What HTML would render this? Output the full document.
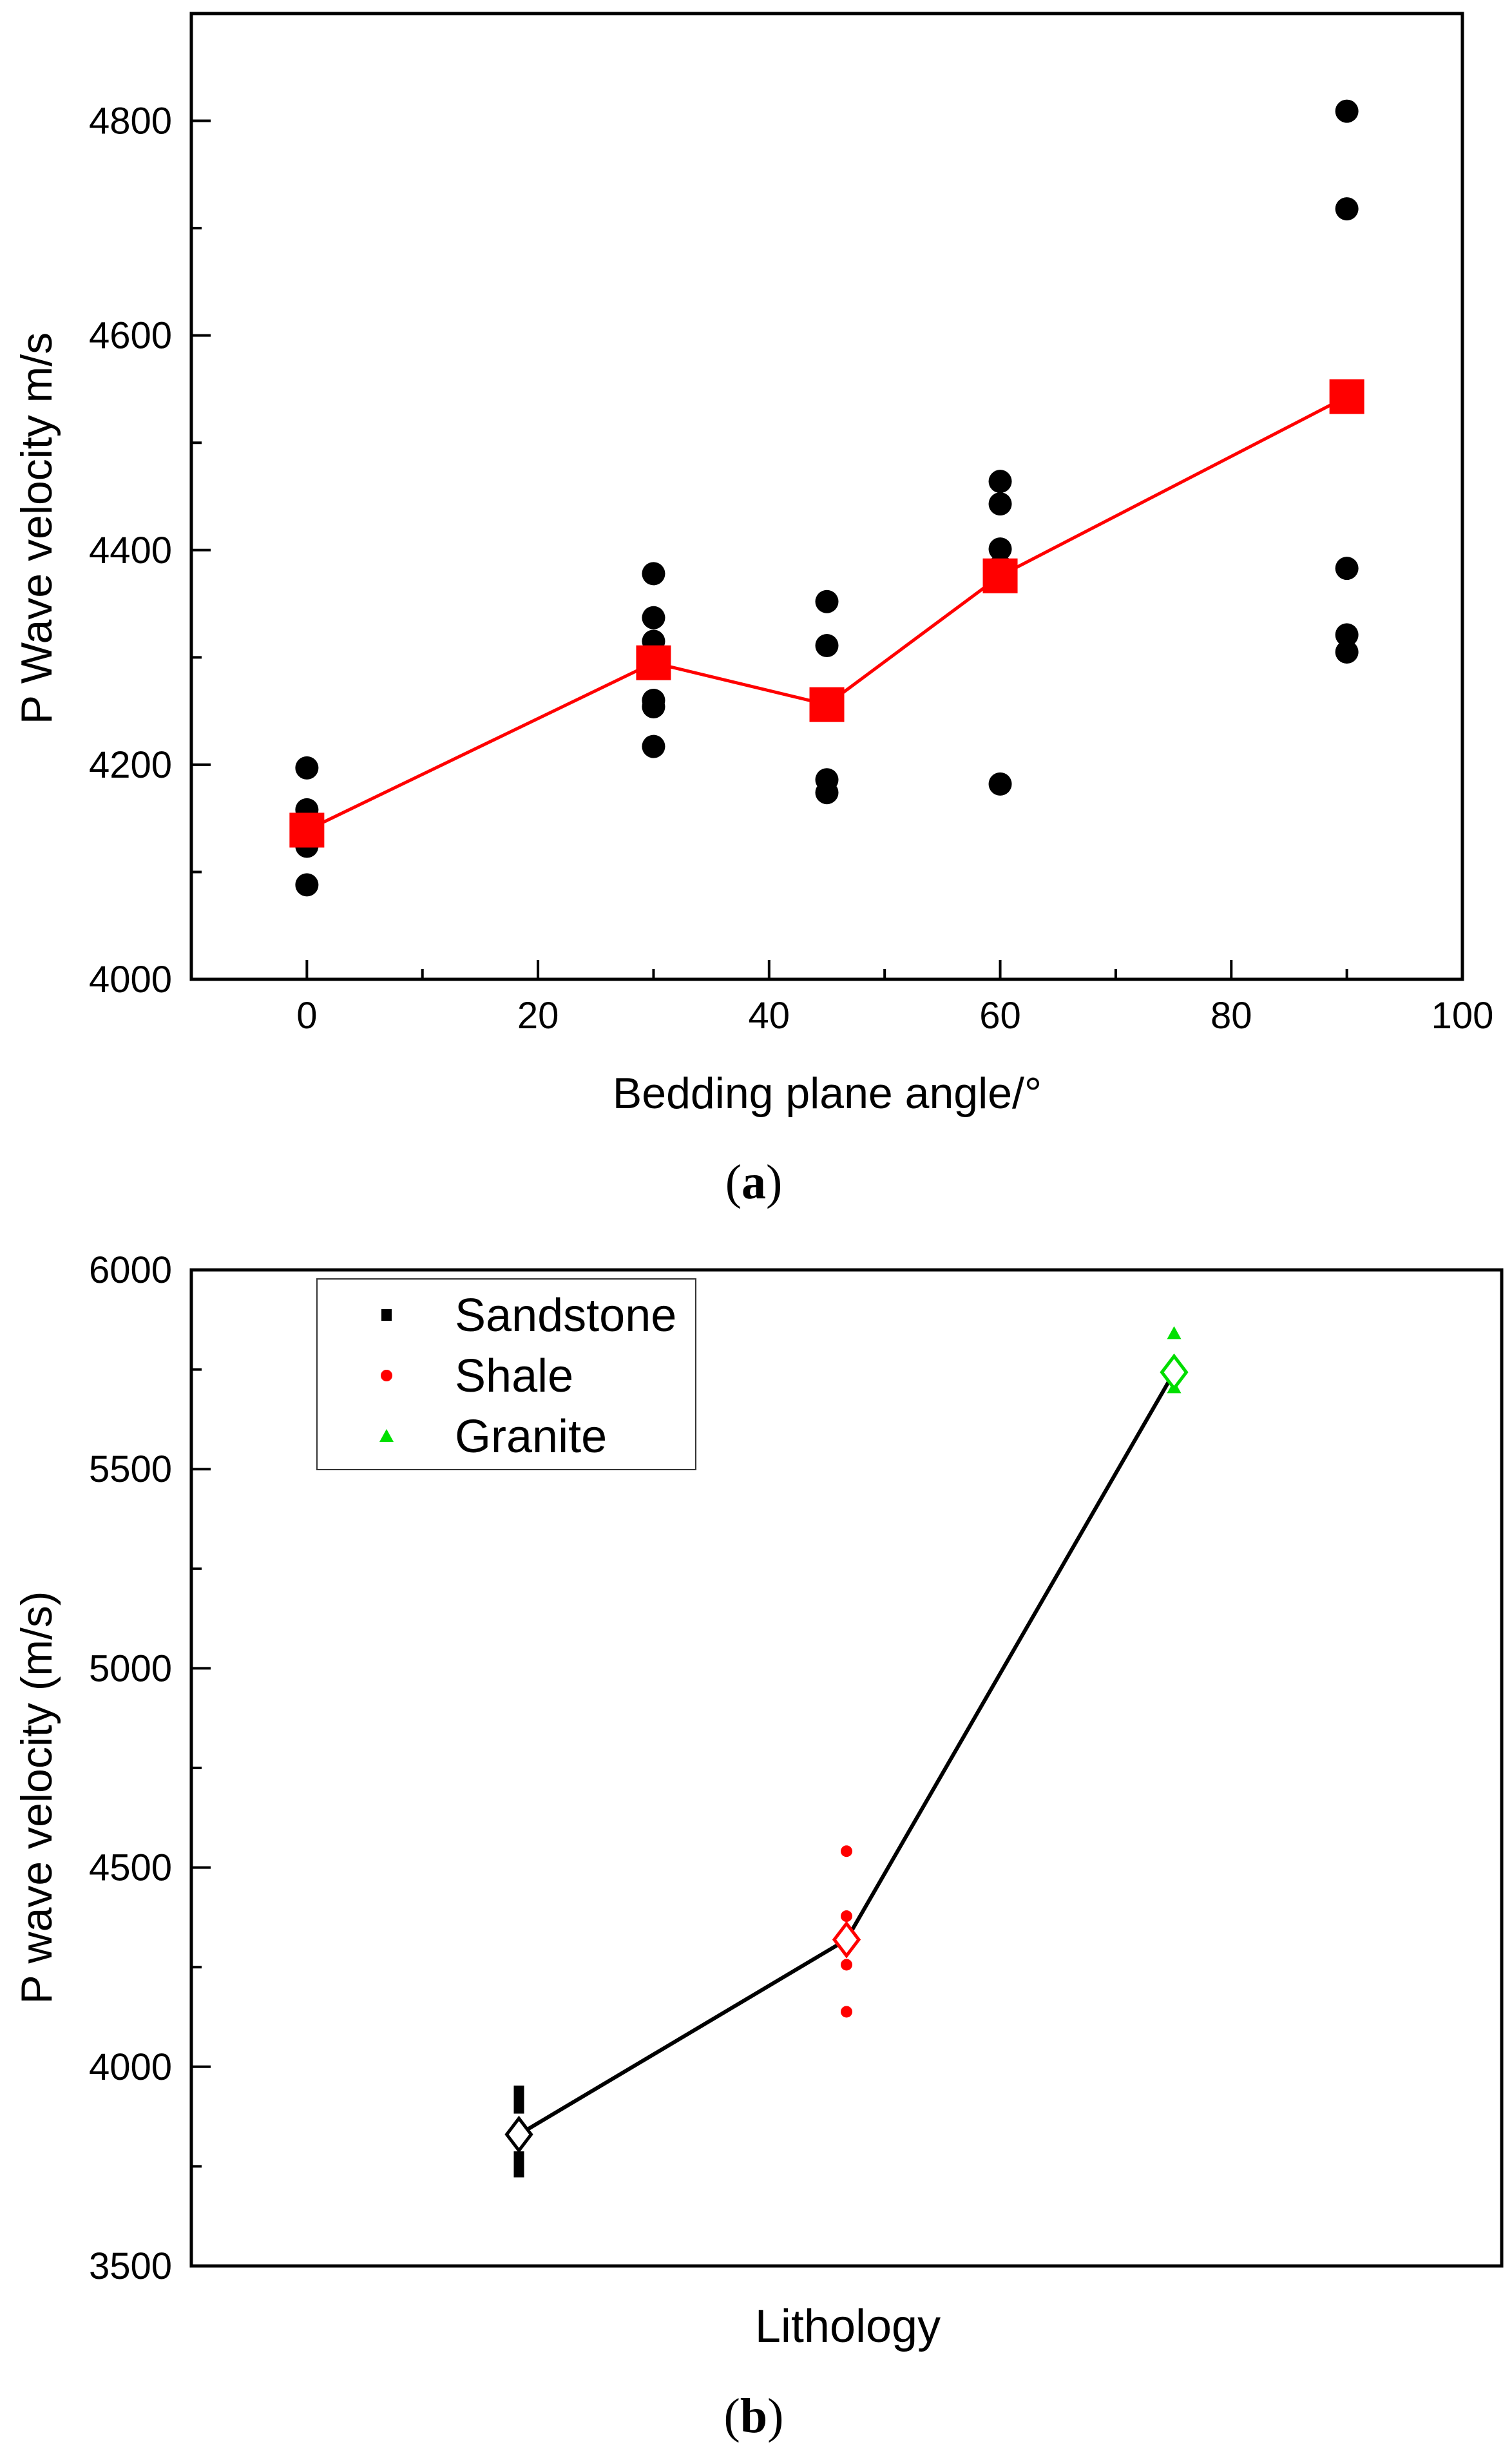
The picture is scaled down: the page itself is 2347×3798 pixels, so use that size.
<!DOCTYPE html>
<html><head><meta charset="utf-8"><style>
html,body{margin:0;padding:0;background:#fff}
svg{display:block}
text{font-family:"Liberation Sans",sans-serif;fill:#000}
</style></head><body>
<svg id="fig" xmlns="http://www.w3.org/2000/svg" width="2347" height="3798" viewBox="0 0 2347 3798">
<g id="chartA"></g>
<g id="chartB"></g>
</svg>
<script>
// ---- Chart A data ----
const anglesA = [0, 30, 45, 60, 90];
const pointsA0 = [4197, 4158, 4142, 4124, 4088];
const pointsA30 = [4378, 4337, 4315, 4260, 4254, 4217];
const pointsA45 = [4352, 4311, 4186, 4174];
const pointsA60 = [4464, 4443, 4401, 4385, 4182];
const pointsA90 = [4809, 4718, 4383, 4321, 4305];
const meansA = [4139, 4295, 4256, 4376, 4543];
const xTicksA = [0, 20, 40, 60, 80, 100];
const yTicksA = [4000, 4200, 4400, 4600, 4800];
// ---- Chart B data ----
const categoriesB = ["Sandstone", "Shale", "Granite"];
const sandstoneVals = [3930, 3905, 3765, 3745];
const shaleVals = [4541, 4378, 4256, 4138];
const graniteVals = [5841, 5705];
const meansB = [3830, 4319, 5743];
const yTicksB = [3500, 4000, 4500, 5000, 5500, 6000];

const NS = "http://www.w3.org/2000/svg";
function mk(parent, tag, attrs, txt) {
  const e = document.createElementNS(NS, tag);
  for (const k in attrs) e.setAttribute(k, attrs[k]);
  if (txt !== undefined) e.textContent = txt;
  parent.appendChild(e);
  return e;
}

// ===== Chart A =====
(function () {
  const g = document.getElementById('chartA');
  const L = 297, R = 2270, T = 21, B = 1520;
  const x = v => L + (v + 10) / 110 * (R - L);
  const y = v => B - (v - 4000) / 900 * (B - T);
  const frame = mk(g, 'rect', {x: L, y: T, width: R - L, height: B - T, fill: 'none', stroke: '#000', 'stroke-width': 5});
  
  
  for (let v = 0; v <= 90; v += 10) {
    const major = v % 20 === 0;
    const t = mk(g, 'line', {x1: x(v), x2: x(v), y1: B, y2: B - (major ? 30 : 16), stroke: '#000', 'stroke-width': 4});
    
    
  }
  xTicksA.forEach(v => {
    const t = mk(g, 'text', {x: x(v), y: 1596, 'font-size': 58, 'text-anchor': 'middle'}, String(v));
    
    
  });
  for (let v = 4100; v <= 4800; v += 100) {
    const major = v % 200 === 0;
    const t = mk(g, 'line', {x1: L, x2: L + (major ? 30 : 16), y1: y(v), y2: y(v), stroke: '#000', 'stroke-width': 4});
    
    
  }
  yTicksA.forEach(v => {
    const t = mk(g, 'text', {x: 267, y: y(v) + 20, 'font-size': 58, 'text-anchor': 'end'}, String(v));
    
    
  });
  const xt = mk(g, 'text', {x: 1284, y: 1720, 'font-size': 68, 'text-anchor': 'middle'}, 'Bedding plane angle/\u00B0');
  
  
  const yt = mk(g, 'text', {x: 0, y: 0, 'font-size': 68, 'text-anchor': 'middle', transform: 'translate(80,820) rotate(-90)'}, 'P Wave velocity m/s');
  
  
  const cap = mk(g, 'text', {x: 1170, y: 1860, 'font-size': 76, 'text-anchor': 'middle', style: 'font-family:"Liberation Serif",serif'}, '');
  
  
  mk(cap, 'tspan', {}, '(');
  mk(cap, 'tspan', {'font-weight': 'bold'}, 'a');
  mk(cap, 'tspan', {}, ')');

  const groups = [pointsA0, pointsA30, pointsA45, pointsA60, pointsA90];
  groups.forEach((arr, i) => {
    arr.forEach(v => {
      const c = mk(g, 'circle', {cx: x(anglesA[i]), cy: y(v), r: 18, fill: '#000'});
      
      
    });
  });
  const pts = meansA.map((v, i) => x(anglesA[i]) + ',' + y(v)).join(' ');
  const line = mk(g, 'polyline', {points: pts, fill: 'none', stroke: '#ff0000', 'stroke-width': 5});
  
  
  meansA.forEach((v, i) => {
    const s = mk(g, 'rect', {x: x(anglesA[i]) - 27, y: y(v) - 27, width: 54, height: 54, fill: '#ff0000'});
    
    
  });
})();

// ===== Chart B =====
(function () {
  const g = document.getElementById('chartB');
  const L = 297, R = 2331, T = 1971, B = 3517;
  const x = i => L + (i + 1) / 4 * (R - L);
  const y = v => B - (v - 3500) / 2500 * (B - T);
  const frame = mk(g, 'rect', {x: L, y: T, width: R - L, height: B - T, fill: 'none', stroke: '#000', 'stroke-width': 5});
  
  
  for (let v = 3750; v < 6000; v += 250) {
    const major = v % 500 === 0;
    const t = mk(g, 'line', {x1: L, x2: L + (major ? 30 : 16), y1: y(v), y2: y(v), stroke: '#000', 'stroke-width': 4});
    
    
  }
  yTicksB.forEach(v => {
    const t = mk(g, 'text', {x: 267, y: y(v) + 20, 'font-size': 58, 'text-anchor': 'end'}, String(v));
    
    
  });
  const xt = mk(g, 'text', {x: 1316, y: 3635, 'font-size': 72, 'text-anchor': 'middle'}, 'Lithology');
  
  
  const yt = mk(g, 'text', {x: 0, y: 0, 'font-size': 68, 'text-anchor': 'middle', transform: 'translate(80,2790) rotate(-90)'}, 'P wave velocity (m/s)');
  
  
  const cap = mk(g, 'text', {x: 1170, y: 3775, 'font-size': 76, 'text-anchor': 'middle', style: 'font-family:"Liberation Serif",serif'}, '');
  
  
  mk(cap, 'tspan', {}, '(');
  mk(cap, 'tspan', {'font-weight': 'bold'}, 'b');
  mk(cap, 'tspan', {}, ')');

  const pts = meansB.map((v, i) => x(i) + ',' + y(v)).join(' ');
  const line = mk(g, 'polyline', {points: pts, fill: 'none', stroke: '#000', 'stroke-width': 6});
  
  

  sandstoneVals.forEach(v => {
    const s = mk(g, 'rect', {x: x(0) - 8, y: y(v) - 14, width: 16, height: 28, fill: '#000'});
    
    
  });
  shaleVals.forEach(v => {
    const c = mk(g, 'circle', {cx: x(1), cy: y(v), r: 9, fill: '#ff0000'});
    
    
  });
  graniteVals.forEach(v => {
    const cx = x(2), cy = y(v);
    const p = mk(g, 'polygon', {points: `${cx},${cy - 11} ${cx - 11},${cy + 9} ${cx + 11},${cy + 9}`, fill: '#00e000'});
    
    
  });
  const colors = ['#000', '#ff0000', '#00dd00'];
  meansB.forEach((v, i) => {
    const cx = x(i), cy = y(v);
    const d = mk(g, 'polygon', {points: `${cx},${cy - 25} ${cx + 19},${cy} ${cx},${cy + 25} ${cx - 19},${cy}`, fill: '#fff', stroke: colors[i], 'stroke-width': 5});
    
    
  });

  // Legend
  const lg = mk(g, 'g', {});
  
  
  mk(lg, 'rect', {x: 492, y: 1985, width: 588, height: 296, fill: '#fff', stroke: '#333', 'stroke-width': 2});
  const rowsY = [2041, 2135, 2229];
  categoriesB.forEach((name, i) => {
    const cy = rowsY[i], cx = 600;
    let m;
    if (i === 0) m = mk(lg, 'rect', {x: cx - 8, y: cy - 9, width: 16, height: 18, fill: '#000'});
    else if (i === 1) m = mk(lg, 'circle', {cx: cx, cy: cy, r: 9, fill: '#ff0000'});
    else m = mk(lg, 'polygon', {points: `${cx},${cy - 11} ${cx - 11},${cy + 9} ${cx + 11},${cy + 9}`, fill: '#00e000'});
    
    
    const t = mk(lg, 'text', {x: 706, y: cy + 25, 'font-size': 72}, name);
    
    
  });
})();
</script>
</body></html>
